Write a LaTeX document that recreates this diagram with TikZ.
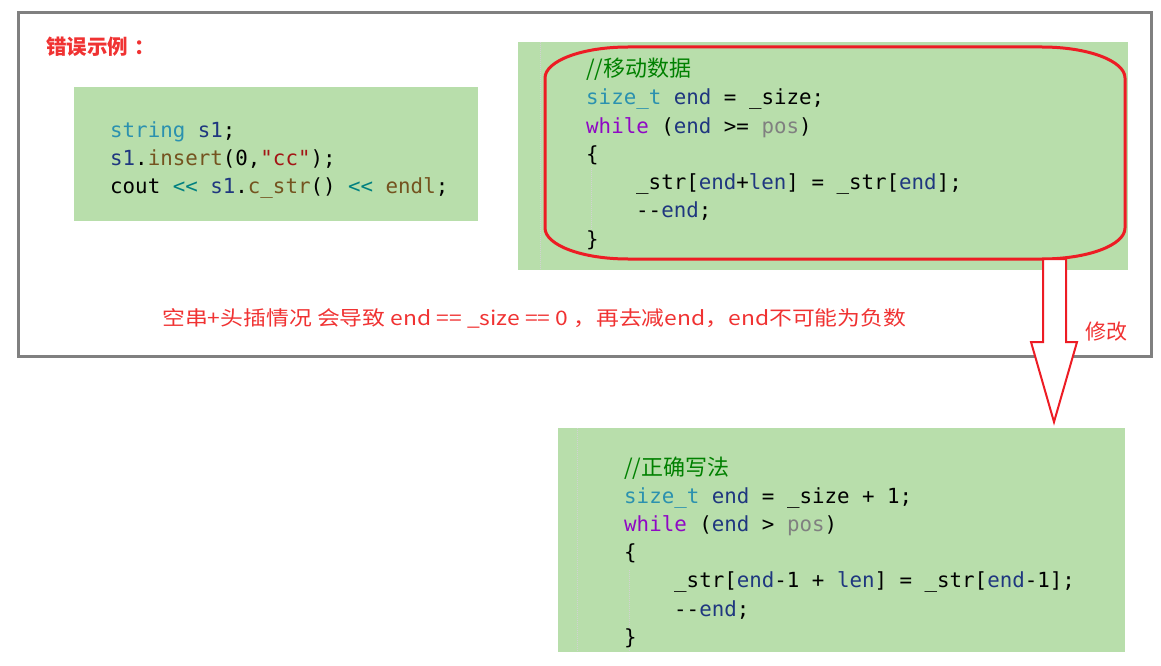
\documentclass[tikz,border=0pt]{standalone}
\usepackage{fontspec}
\usepackage{graphicx}
\newfontfamily\cjk{Noto Sans CJK SC}
\newfontfamily\codefont{DejaVu Sans Mono}
\definecolor{codebg}{RGB}{184,222,171}
\definecolor{framegray}{RGB}{128,128,128}
\definecolor{alertred}{RGB}{237,28,36}
\definecolor{txtred}{RGB}{240,50,50}
\definecolor{cTyC}{RGB}{43,145,175}
\definecolor{cVarC}{RGB}{31,55,127}
\definecolor{cKwC}{RGB}{143,8,196}
\definecolor{cGrayC}{RGB}{128,128,128}
\definecolor{cFnC}{RGB}{116,83,31}
\definecolor{cOpC}{RGB}{0,128,128}
\definecolor{cStrC}{RGB}{163,21,21}
\definecolor{cComC}{RGB}{0,128,0}
\newcommand\cTy[1]{\textcolor{cTyC}{#1}}
\newcommand\cVar[1]{\textcolor{cVarC}{#1}}
\newcommand\cKw[1]{\textcolor{cKwC}{#1}}
\newcommand\cGr[1]{\textcolor{cGrayC}{#1}}
\newcommand\cFn[1]{\textcolor{cFnC}{#1}}
\newcommand\cOp[1]{\textcolor{cOpC}{#1}}
\newcommand\cStr[1]{\textcolor{cStrC}{#1}}
\newcommand\cCom[1]{\textcolor{cComC}{{\cjk\fontsize{22}{24}\selectfont #1}}}
\tikzset{
  codeline/.style={anchor=base west, inner sep=0pt, font=\codefont\fontsize{20.8}{28}\selectfont},
  greenbox/.style={fill=codebg, draw=none},
  guide/.style={draw=black!18, line width=0.8pt, dash pattern=on 1pt off 1pt},
  redlabel/.style={text=txtred, inner sep=0pt, font=\cjk\fontsize{20}{24}\selectfont},
}
\begin{document}
\begin{tikzpicture}[x=1pt,y=-1pt]
\useasboundingbox (0,0) rectangle (1161,666);
% outer frame
\draw[framegray, line width=3pt] (18,13) rectangle (1151,356);
\node[redlabel, anchor=west, font=\cjk\bfseries\fontsize{20.5}{22}\selectfont] (title) at (46,47) {错误示例\hspace{6pt}：};
% box 1
\fill[greenbox] (74,87) rectangle (478,221);
\node[codeline] (a1) at (110,137) {\cTy{string} \cVar{s1};};
\node[codeline] (a2) at (110,165) {\cVar{s1}.\cFn{insert}(0,\cStr{"cc"});};
\node[codeline] (a3) at (110,193) {cout \cOp{<<} \cVar{s1}.\cFn{c\_str}() \cOp{<<} \cFn{endl};};
% box 2
\fill[greenbox] (518,42) rectangle (1128,270);
\draw[guide] (540,42) -- (540,270);
\draw[guide] (591,168) -- (591,250);
\node[codeline] (b1) at (586,77) {\cCom{//移动数据}};
\node[codeline] (b2) at (586,105) {\cTy{size\_t} \cVar{end} = \_size;};
\node[codeline] (b3) at (586,133) {\cKw{while} (\cVar{end} >= \cGr{pos})};
\node[codeline] (b4) at (586,161) {\{};
\node[codeline] (b5) at (636,189) {\_str[\cVar{end}+\cVar{len}] = \_str[\cVar{end}];};
\node[codeline] (b6) at (636,217) {-{}-\cVar{end};};
\node[codeline] (b7) at (586,246) {\}};
\draw[alertred, line width=3pt]
  (628,47) -- (1042,47) arc[start angle=270, end angle=360, x radius=83, y radius=31]
  -- (1125,228) arc[start angle=0, end angle=90, x radius=83, y radius=31]
  -- (628,259) arc[start angle=90, end angle=180, x radius=83, y radius=31]
  -- (545,78) arc[start angle=180, end angle=270, x radius=83, y radius=31] -- cycle;
% explanation
\node[redlabel, anchor=west] (note) at (162,318) {\resizebox{744pt}{\height}{空串+头插情况 会导致 end == \_size == 0 ，再去减end，end不可能为负数}};
\node[redlabel, anchor=west, font=\cjk\fontsize{21}{24}\selectfont] (fix) at (1085,332) {修改};
% box 3
\fill[greenbox] (558,428) rectangle (1125,652);
\draw[guide] (577,428) -- (577,652);
\draw[guide] (629,570) -- (629,652);
\node[codeline] (c1) at (624,475) {\cCom{//正确写法}};
\node[codeline] (c2) at (624,503) {\cTy{size\_t} \cVar{end} = \_size + 1;};
\node[codeline] (c3) at (624,531) {\cKw{while} (\cVar{end} > \cGr{pos})};
\node[codeline] (c4) at (624,559) {\{};
\node[codeline] (c5) at (674,587) {\_str[\cVar{end}-1 + \cVar{len}] = \_str[\cVar{end}-1];};
\node[codeline] (c6) at (674,616) {-{}-\cVar{end};};
\node[codeline] (c7) at (624,644) {\}};
% arrow
\coordinate (atip) at (1054,422);
\draw[alertred, line width=2pt, fill=white, line join=miter]
  (1043,259) -- (1043,342) -- (1031,342) -- (atip) -- (1077,342) -- (1066,342) -- (1066,259) -- cycle;
\end{tikzpicture}
\end{document}
